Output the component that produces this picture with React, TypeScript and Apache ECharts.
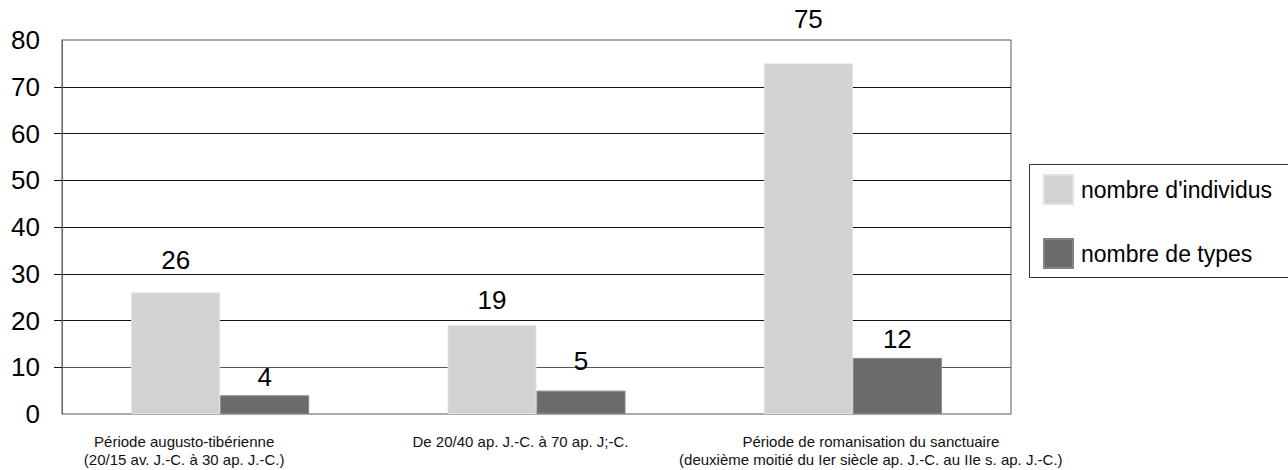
import React, { useEffect, useRef } from "react";
import * as echarts from "echarts";

const categories = [
  "Période augusto-tibérienne\n(20/15 av. J.-C. à 30 ap. J.-C.)",
  "De 20/40 ap. J.-C. à 70 ap. J;-C.",
  "Période de romanisation du sanctuaire\n(deuxième moitié du Ier siècle ap. J.-C. au IIe s. ap. J.-C.)",
];
const seriesNames = ["nombre d'individus", "nombre de types"];
const individus = [26, 19, 75];
const types = [4, 5, 12];
const yTicks = [0, 10, 20, 30, 40, 50, 60, 70, 80];

// label spacing above each bar (style, not data)
const individusLabelGap = [19, 12, 31];
const typesLabelGap = [5, 17, 6];
const categoryShift = [
  [0, 72, 0, 0],
  [0, 32, 0, 0],
  [0, 0, 0, 36],
];

const FONT = "'Liberation Sans', Arial, Helvetica, sans-serif";

export default function App() {
  const ref = useRef<HTMLDivElement>(null);

  useEffect(() => {
    document.body.style.margin = "0";
    const chart = echarts.init(ref.current!, null, { renderer: "svg" });
    const rich: Record<string, any> = {};
    categoryShift.forEach((p, i) => {
      rich["c" + i] = {
        padding: p,
        fontSize: 15,
        lineHeight: 18,
        fontFamily: FONT,
        color: "#111",
      };
    });
    chart.setOption({
      animation: false,
      backgroundColor: "#fff",
      textStyle: { fontFamily: FONT },
      grid: {
        left: 62,
        right: 277,
        top: 40,
        bottom: 56,
        show: true,
        borderColor: "#555",
        borderWidth: 1,
        containLabel: false,
        outerBoundsMode: "none",
      },
      legend: {
        orient: "vertical",
        left: 1043,
        top: 174,
        padding: 0,
        itemWidth: 29,
        itemHeight: 29,
        itemGap: 33,
        icon: "rect",
        data: seriesNames,
        textStyle: {
          fontSize: 23,
          color: "#000",
          fontFamily: FONT,
          padding: [0, 0, 0, 3],
        },
      },
      graphic: [
        {
          type: "rect",
          shape: { x: 1029.5, y: 164.5, width: 300, height: 113 },
          style: { fill: "none", stroke: "#333", lineWidth: 1 },
          silent: true,
        },
      ],
      xAxis: {
        type: "category",
        data: categories,
        axisLine: { show: false },
        axisTick: { show: false },
        splitLine: { show: false },
        axisLabel: {
          interval: 0,
          margin: 18,
          fontSize: 15,
          lineHeight: 18,
          color: "#111",
          fontFamily: FONT,
          formatter: (value: string, index: number) =>
            value
              .split("\n")
              .map((l) => `{c${index}|${l}}`)
              .join("\n"),
          rich,
        },
      },
      yAxis: {
        type: "value",
        min: 0,
        max: 80,
        interval: 10,
        axisLine: { show: true, lineStyle: { color: "#666", width: 1 } },
        axisTick: {
          show: true,
          length: 8,
          inside: false,
          lineStyle: { color: "#111" },
          customValues: yTicks.slice(1, -1),
        },
        axisLabel: {
          fontSize: 26,
          margin: 22,
          color: "#000",
          fontFamily: FONT,
        },
        splitLine: {
          show: true,
          lineStyle: {
            color: ["#555", "#111", "#111", "#111", "#111", "#111", "#111", "#111", "#555"],
            width: 1,
          },
        },
      },
      series: [
        {
          name: seriesNames[0],
          type: "bar",
          barWidth: 89,
          barGap: "0%",
          itemStyle: { color: "#d3d2d1", borderColor: "#e2e1e0", borderWidth: 1 },
          label: {
            show: true,
            position: "top",
            fontSize: 26,
            color: "#000",
            fontFamily: FONT,
          },
          data: individus.map((v, i) => ({
            value: v,
            label: { distance: individusLabelGap[i] },
          })),
        },
        {
          name: seriesNames[1],
          type: "bar",
          barWidth: 89,
          barGap: "0%",
          itemStyle: { color: "#6c6b6a", borderColor: "#858483", borderWidth: 1 },
          label: {
            show: true,
            position: "top",
            fontSize: 26,
            color: "#000",
            fontFamily: FONT,
          },
          data: types.map((v, i) => ({
            value: v,
            label: { distance: typesLabelGap[i] },
          })),
        },
      ],
    });
    return () => chart.dispose();
  }, []);

  return <div ref={ref} style={{ width: 1288, height: 470 }} />;
}
